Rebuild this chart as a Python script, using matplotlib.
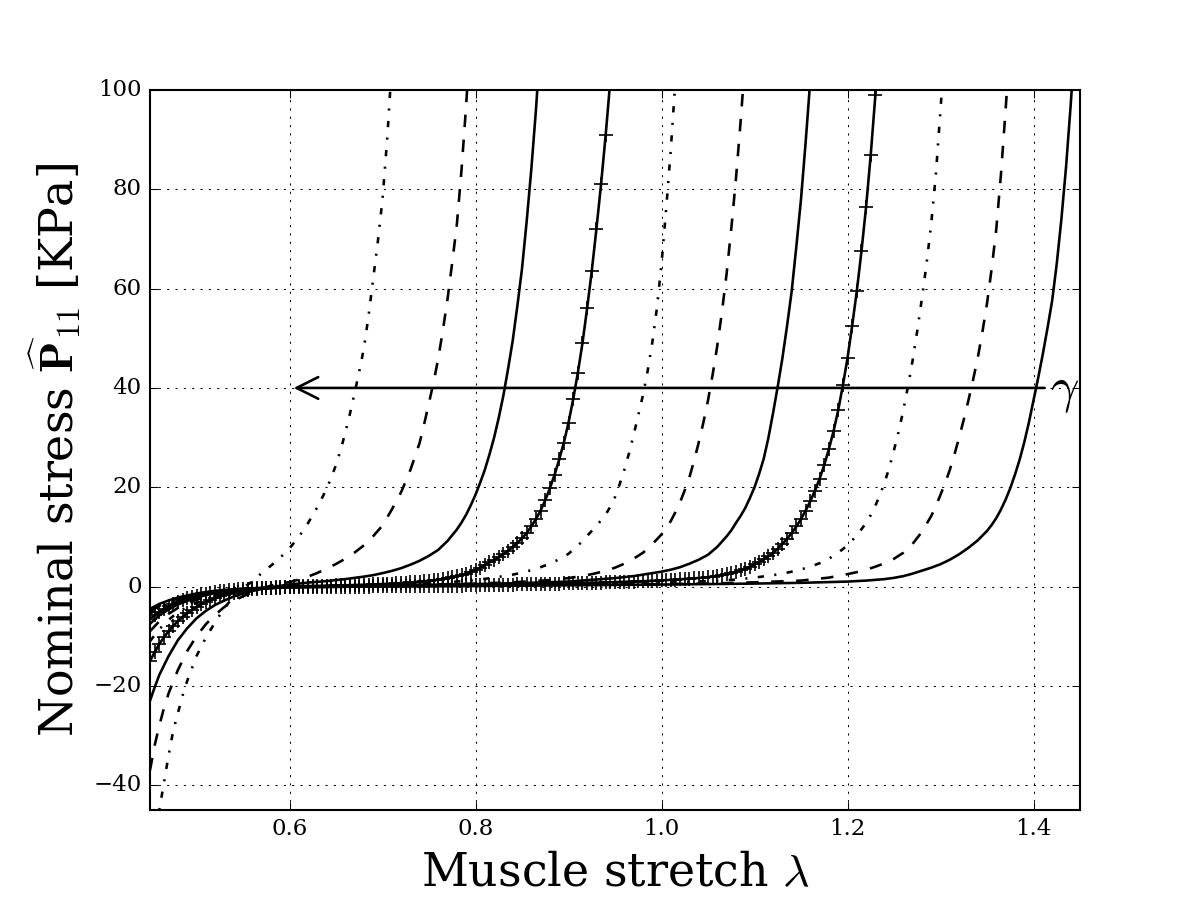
import numpy as np
import matplotlib
matplotlib.use('Agg')
import matplotlib.pyplot as plt

# curves, one per active stretch value gamma
c1_stretch = [0.45, 0.455, 0.46, 0.465, 0.47, 0.475, 0.48, 0.485, 0.49,
              0.50, 0.51, 0.52, 0.53, 0.54, 0.55, 0.56, 0.57, 0.58, 0.59, 0.60, 0.61, 0.62, 0.63, 0.64,
              0.645, 0.65, 0.655, 0.66, 0.665, 0.67, 0.675, 0.68, 0.685, 0.69, 0.695, 0.70, 0.705, 0.71]
c1_stress = [-60, -52, -45, -39.5, -34, -29, -25.5, -22, -19,
             -14, -10.3, -7.2, -4.3, -2.0, -0.2, 1.0, 2.7, 4.2, 5.8, 7.7, 10.0, 12.8, 16.0, 19.7,
             22.0, 24.5, 27.5, 31, 34.8, 39, 43.3, 48, 54.5, 62, 69.5, 78, 90, 105]

c2_stretch = [0.45, 0.455, 0.46, 0.465, 0.47,
              0.48, 0.49, 0.50, 0.51, 0.52, 0.53, 0.54, 0.55, 0.56, 0.57, 0.58, 0.59, 0.60,
              0.61, 0.62, 0.63, 0.64, 0.65, 0.66, 0.67, 0.68, 0.69, 0.70, 0.71, 0.72,
              0.725, 0.73, 0.735, 0.74, 0.745, 0.75, 0.755, 0.76, 0.765, 0.77, 0.775, 0.78,
              0.785, 0.79, 0.795, 0.80]
c2_stress = [-37, -32, -28, -24.5, -21.5,
             -16.8, -13, -10, -7.6, -5.7, -4.1, -2.9, -1.95, -1.2, -0.45, 0.2, 0.6, 0.9,
             1.4, 2.0, 2.75, 3.6, 4.55, 5.6, 6.85, 8.3, 10.15, 12.3, 15.5, 19.0,
             21.2, 23.5, 26.2, 29, 32.9, 37, 41.2, 46, 51.7, 58, 65.3, 73,
             84, 97, 113, 132]

c3_stretch = [0.45, 0.455, 0.46,
              0.47, 0.48, 0.49, 0.50, 0.51, 0.52, 0.53, 0.54, 0.55, 0.56,
              0.58, 0.60, 0.62, 0.64, 0.66, 0.68,
              0.69, 0.70, 0.71, 0.72, 0.73, 0.74, 0.75, 0.76, 0.77, 0.78,
              0.785, 0.79, 0.795, 0.80, 0.805, 0.81, 0.815, 0.82, 0.825, 0.83,
              0.835, 0.84, 0.845, 0.85, 0.855, 0.86, 0.865, 0.87]
c3_stress = [-23, -20.3, -17.8,
             -14, -10.8, -8.4, -6.4, -4.9, -3.7, -2.8, -2.0, -1.4, -0.9,
             -0.1, 0.4, 0.8, 1.1, 1.5, 2.0,
             2.3, 2.7, 3.15, 3.7, 4.4, 5.2, 6.2, 7.4, 9.2, 11.5,
             12.9, 14.5, 16.4, 18.5, 20.9, 23.5, 26.6, 30, 34, 38.5,
             43.8, 49.5, 56.5, 64, 73.5, 84, 96, 110]

# curve with markers, sampled every 0.005 from 0.45
c4_start = 0.45
c4_stress = [
    -15.0, -13.2, -11.6, -10.2, -9.0, -7.9, -7.0, -6.1, -5.4, -4.7,
    -4.1, -3.6, -3.1, -2.7, -2.3, -2.0, -1.7, -1.4, -1.2, -1.0,
    -0.8, -0.7, -0.55, -0.45, -0.35, -0.27, -0.2, -0.14, -0.09, -0.05,
    -0.01, 0.02, 0.05, 0.08, 0.1, 0.12, 0.14, 0.16, 0.18, 0.2,
    0.22, 0.24, 0.26, 0.28, 0.31, 0.34, 0.37, 0.4, 0.43, 0.47,
    0.51, 0.55, 0.6, 0.65, 0.7, 0.76, 0.83, 0.9, 0.98, 1.07,
    1.17, 1.28, 1.4, 1.53, 1.68, 1.85, 2.05, 2.3, 2.6, 2.95,
    3.35, 3.8, 4.3, 4.85, 5.4, 5.95, 6.5, 7.2, 8.0, 8.8,
    9.7, 10.8, 12.1, 13.6, 15.3, 17.4, 19.8, 22.5, 25.6, 29.0,
    33.0, 37.7, 43.0, 49.0, 56.0, 63.5, 72.0, 81.0, 91.0, 102.0]

c5_stretch = [0.45, 0.46, 0.47, 0.48, 0.49, 0.50,
              0.52, 0.54, 0.56, 0.60, 0.65, 0.70, 0.75, 0.78, 0.80, 0.82, 0.84,
              0.85, 0.86, 0.87, 0.88, 0.89, 0.90, 0.91, 0.92, 0.93, 0.94,
              0.945, 0.95, 0.955, 0.96, 0.965, 0.97, 0.975, 0.98, 0.985, 0.99,
              0.995, 1.00, 1.005, 1.01, 1.015, 1.02]
c5_stress = [-11, -8.6, -6.7, -5.2, -4.1, -3.2,
             -1.9, -1.1, -0.6, -0.1, 0.2, 0.4, 0.7, 1.0, 1.3, 1.8, 2.4,
             2.8, 3.3, 3.9, 4.6, 5.5, 6.6, 8.2, 10.2, 12.2, 14.5,
             16.1, 18, 20.6, 23.5, 26.8, 30.5, 34.5, 38.5, 43.3, 49,
             56, 65, 76, 88, 102, 118]

c6_stretch = [0.45, 0.46, 0.47, 0.48, 0.50, 0.52, 0.55, 0.60, 0.65, 0.70, 0.75, 0.80, 0.84, 0.88, 0.90,
              0.92, 0.93, 0.94, 0.95, 0.96, 0.97, 0.98, 0.99, 1.00,
              1.005, 1.01, 1.015, 1.02, 1.025, 1.03, 1.035, 1.04, 1.045, 1.05,
              1.055, 1.06, 1.065, 1.07, 1.075, 1.08, 1.085, 1.09, 1.095, 1.10]
c6_stress = [-9, -7.0, -5.5, -4.3, -2.6, -1.6, -0.7, -0.1, 0.1, 0.25, 0.4, 0.6, 0.85, 1.3, 1.7,
             2.3, 2.7, 3.2, 3.8, 4.6, 5.6, 6.8, 8.5, 10.5,
             11.8, 13.2, 15, 17, 19.4, 22, 25.3, 29, 33, 37.5,
             42.7, 48.5, 55.3, 63, 72, 82, 93.5, 106, 121, 138]

c7_stretch = [0.45, 0.46, 0.47, 0.48, 0.50, 0.52, 0.55, 0.60, 0.65, 0.70, 0.75, 0.80, 0.85, 0.90, 0.95,
              0.97, 0.98, 0.99, 1.00, 1.01, 1.02, 1.03, 1.04, 1.05, 1.06, 1.07,
              1.075, 1.08, 1.085, 1.09, 1.095, 1.10, 1.105, 1.11, 1.115, 1.12,
              1.125, 1.13, 1.135, 1.14, 1.145, 1.15, 1.155, 1.16, 1.165, 1.17]
c7_stress = [-7.5, -5.8, -4.6, -3.6, -2.2, -1.3, -0.6, -0.1, 0.1, 0.2, 0.35, 0.5, 0.7, 1.0, 1.7,
             2.1, 2.4, 2.7, 3.0, 3.4, 3.9, 4.6, 5.4, 6.4, 8.0, 10.1,
             11.3, 12.8, 14.2, 15.8, 17.8, 20, 22.7, 25.8, 30, 35,
             40.3, 46, 52.5, 59.5, 68.5, 78, 89.5, 102, 116, 133]

# second curve with markers, sampled every 0.005 from 0.45
c8_start = 0.45
c8_stress = [
    -6.5, -5.8, -5.1, -4.5, -4.0, -3.5, -3.1, -2.7, -2.4, -2.1,
    -1.85, -1.6, -1.4, -1.25, -1.1, -0.95, -0.85, -0.75, -0.65, -0.57,
    -0.5, -0.44, -0.39, -0.34, -0.3, -0.27, -0.24, -0.22, -0.2, -0.18,
    -0.16, -0.15, -0.14, -0.13, -0.12, -0.11, -0.1, -0.09, -0.08, -0.07,
    -0.06, -0.05, -0.04, -0.03, -0.02, -0.01, 0.0, 0.01, 0.02, 0.03,
    0.04, 0.05, 0.06, 0.07, 0.08, 0.09, 0.1, 0.11, 0.12, 0.13,
    0.14, 0.15, 0.16, 0.17, 0.18, 0.19, 0.2, 0.21, 0.22, 0.23,
    0.25, 0.27, 0.29, 0.31, 0.33, 0.35, 0.37, 0.39, 0.41, 0.43,
    0.45, 0.47, 0.49, 0.51, 0.53, 0.55, 0.57, 0.59, 0.61, 0.63,
    0.65, 0.67, 0.69, 0.71, 0.73, 0.75, 0.77, 0.8, 0.83, 0.86,
    0.89, 0.92, 0.95, 0.98, 1.01, 1.04, 1.08, 1.12, 1.16, 1.2,
    1.25, 1.3, 1.35, 1.4, 1.46, 1.52, 1.58, 1.65, 1.72, 1.8,
    1.9, 2.0, 2.15, 2.3, 2.5, 2.7, 2.95, 3.25, 3.6, 4.0,
    4.45, 4.95, 5.5, 6.1, 6.8, 7.6, 8.6, 9.6, 10.8, 12.1,
    13.6, 15.3, 17.2, 19.3, 21.7, 24.5, 27.7, 31.3, 35.5, 40.5,
    46.0, 52.5, 59.5, 67.5, 76.5, 87.0, 99.0, 113.0]

c9_stretch = [0.45, 0.46, 0.47, 0.48, 0.50, 0.52, 0.55, 0.60, 0.70, 0.80, 0.90, 1.00, 1.05, 1.08, 1.10, 1.12,
              1.13, 1.14, 1.15, 1.16, 1.17, 1.18, 1.19, 1.20, 1.21, 1.22,
              1.225, 1.23, 1.235, 1.24, 1.245, 1.25, 1.255, 1.26, 1.265,
              1.27, 1.275, 1.28, 1.285, 1.29, 1.295, 1.30, 1.305, 1.31]
c9_stress = [-5.5, -4.3, -3.4, -2.7, -1.7, -1.0, -0.5, -0.1, 0.1, 0.3, 0.5, 0.8, 1.1, 1.4, 1.8, 2.3,
             2.6, 3.0, 3.45, 4.0, 4.7, 5.6, 6.8, 8.3, 10.3, 12.8,
             14.4, 16.3, 18.5, 21, 24, 27.5, 31.2, 35.5, 40.3,
             45.5, 51.5, 58, 65, 73, 83, 96, 110, 125]

c10_stretch = [0.45, 0.46, 0.47, 0.48, 0.50, 0.52, 0.55, 0.60, 0.70, 0.80, 0.90, 1.00, 1.05, 1.10, 1.15, 1.18, 1.20,
               1.21, 1.22, 1.23, 1.24, 1.25, 1.26, 1.27, 1.28, 1.29,
               1.295, 1.30, 1.305, 1.31, 1.315, 1.32, 1.325, 1.33, 1.335,
               1.34, 1.345, 1.35, 1.355, 1.36, 1.365, 1.37, 1.375, 1.38]
c10_stress = [-5, -3.9, -3.1, -2.4, -1.5, -0.9, -0.45, -0.1, 0.05, 0.2, 0.35, 0.5, 0.6, 0.85, 1.2, 1.8, 2.5,
              2.9, 3.4, 4.0, 4.7, 5.6, 6.8, 8.6, 11.0, 14.2,
              16.2, 18.5, 20.8, 23.5, 26.6, 30, 33.6, 37.5, 41.6,
              46, 51.2, 57, 64, 72, 83, 96, 110, 125]

c11_stretch = [0.45, 0.46, 0.47, 0.48, 0.50, 0.52, 0.55, 0.60, 0.70, 0.80, 0.90, 1.00, 1.10, 1.15, 1.20, 1.22, 1.24,
               1.25, 1.26, 1.27, 1.28, 1.29, 1.30, 1.31, 1.32, 1.33, 1.34, 1.35,
               1.355, 1.36, 1.365, 1.37, 1.375, 1.38, 1.385, 1.39, 1.395, 1.40,
               1.405, 1.41, 1.415, 1.42, 1.425, 1.43, 1.435, 1.44, 1.445, 1.45]
c11_stress = [-4.5, -3.5, -2.8, -2.2, -1.4, -0.85, -0.4, -0.1, 0.0, 0.1, 0.25, 0.4, 0.6, 0.75, 1.0, 1.2, 1.5,
              1.75, 2.1, 2.6, 3.2, 3.8, 4.5, 5.4, 6.5, 7.8, 9.3, 11.2,
              12.4, 13.8, 15.5, 17.5, 19.8, 22.5, 25.5, 29, 33, 37.5,
              42, 46.8, 52, 57.5, 65, 74, 84.5, 97, 111, 127]

step = 0.005
c4_stretch = c4_start + step * np.arange(len(c4_stress))
c8_stretch = c8_start + step * np.arange(len(c8_stress))

plt.style.use('classic')
plt.rcParams['font.family'] = 'serif'
plt.rcParams['font.serif'] = ['DejaVu Serif']
plt.rcParams['mathtext.fontset'] = 'cm'

lw = 1.25
fig = plt.figure(figsize=(8, 6), facecolor='w')
ax = fig.add_subplot(111)

ax.plot(c1_stretch, c1_stress, 'k-.', lw=lw)
ax.plot(c2_stretch, c2_stress, 'k--', lw=lw)
ax.plot(c3_stretch, c3_stress, 'k-', lw=lw)
ax.plot(c4_stretch, c4_stress, 'k-', lw=lw, marker='+', ms=6.5, mew=0.8)
ax.plot(c5_stretch, c5_stress, 'k-.', lw=lw)
ax.plot(c6_stretch, c6_stress, 'k--', lw=lw)
ax.plot(c7_stretch, c7_stress, 'k-', lw=lw)
ax.plot(c8_stretch, c8_stress, 'k-', lw=lw, marker='+', ms=6.5, mew=0.8)
ax.plot(c9_stretch, c9_stress, 'k-.', lw=lw)
ax.plot(c10_stretch, c10_stress, 'k--', lw=lw)
ax.plot(c11_stretch, c11_stress, 'k-', lw=lw)

# arrow showing increasing gamma
ax.annotate('', xy=(0.6, 40), xytext=(1.412, 40),
            arrowprops=dict(arrowstyle='->', mutation_scale=26, lw=lw, color='k', shrinkA=0))
ax.text(1.433, 39.5, r'$\gamma$', fontsize=24, ha='center', va='center', clip_on=False)

ax.set_xlim(0.45, 1.45)
ax.set_ylim(-45, 100)
ax.set_xticks([0.6, 0.8, 1.0, 1.2, 1.4])
ax.set_yticks([-40, -20, 0, 20, 40, 60, 80, 100])
ax.tick_params(labelsize=11)
ax.grid(True)

ax.set_xlabel(r'Muscle stretch $\lambda$', fontsize=22)
ax.set_ylabel(r'Nominal stress $\widehat{\mathbf{P}}_{11}$ [KPa]', fontsize=22)

fig.savefig('out.png', dpi=150, facecolor='w')
